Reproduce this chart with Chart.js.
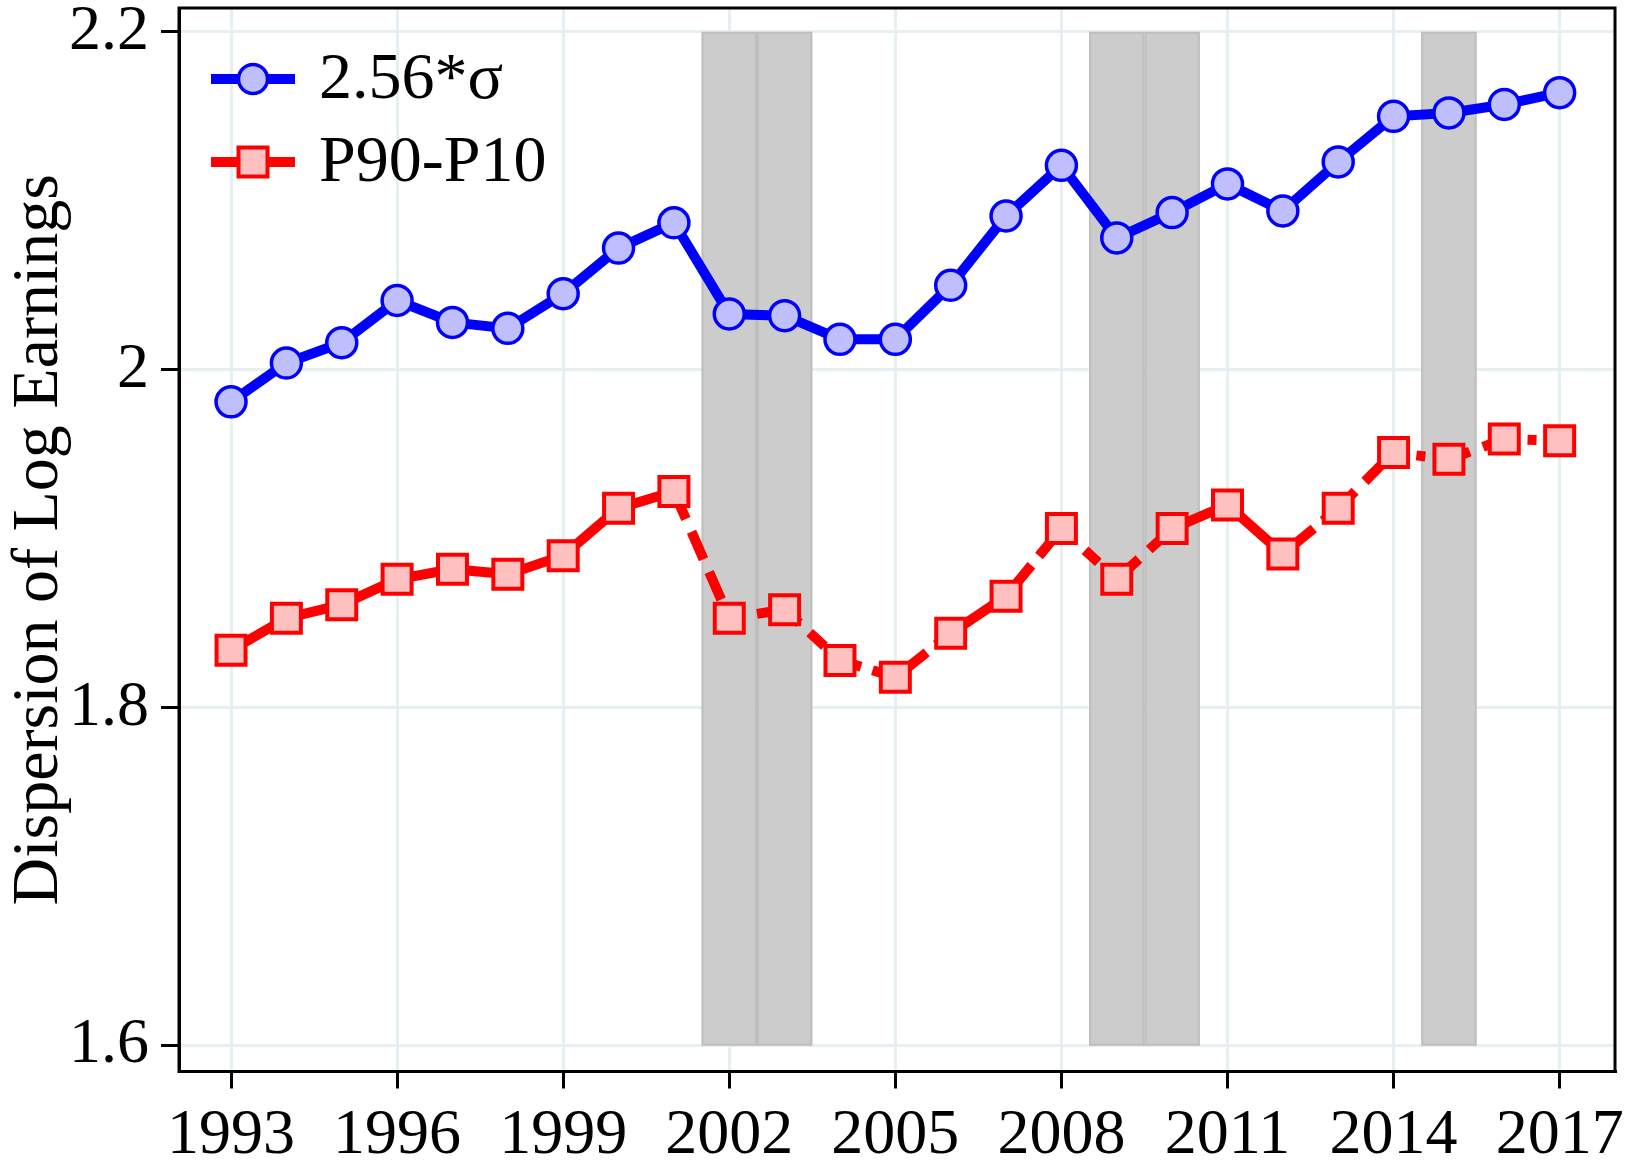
<!DOCTYPE html>
<html>
<head>
<meta charset="utf-8">
<script src="https://cdn.jsdelivr.net/npm/chart.js@4.4.0/dist/chart.umd.min.js"></script>
<style>
  html, body { margin: 0; padding: 0; background: #fff; }
  #wrap { width: 1628px; height: 1165px; position: relative; }
</style>
</head>
<body>
<div id="wrap"><canvas id="dispersionChart"></canvas></div>
<script>
// ===== Data =====
const years = [1993, 1994, 1995, 1996, 1997, 1998, 1999, 2000, 2001, 2002, 2003, 2004,
               2005, 2006, 2007, 2008, 2009, 2010, 2011, 2012, 2013, 2014, 2015, 2016, 2017];
const sigmaValues = [1.981, 2.004, 2.016, 2.041, 2.028, 2.0245, 2.045, 2.072, 2.087, 2.033, 2.032, 2.018,
                     2.018, 2.050, 2.091, 2.121, 2.078, 2.093, 2.110, 2.094, 2.123, 2.150, 2.152, 2.157, 2.164];
const p9010Values = [1.834, 1.853, 1.861, 1.876, 1.882, 1.879, 1.890, 1.918, 1.928, 1.853, 1.858, 1.828,
                     1.818, 1.844, 1.866, 1.906, 1.876, 1.906, 1.920, 1.891, 1.918, 1.951, 1.947, 1.959, 1.958];
const seriesLabels = ['2.56*\u03c3', 'P90-P10'];
const xTicks = [1993, 1996, 1999, 2002, 2005, 2008, 2011, 2014, 2017];
const yTicks = [1.6, 1.8, 2.0, 2.2];
// shaded recession years (start, end)
const recessions = [[2001.5, 2002.5], [2002.5, 2003.5], [2008.5, 2009.5], [2009.5, 2010.5], [2014.5, 2015.5]];
const bandRange = [1.6, 2.2];

// dash pattern of each red segment (segment i joins year i and i+1)
const redDash = [[], [], [], [], [], [], [], [],
                 [30, 14], [14, 14], [20, 14], [22, 12], [40, 12], [], [40, 12], [18, 14],
                 [30, 14], [], [], [40, 12], [24, 14], [9, 14], [9, 14], [9, 14]];

const serif = "'Liberation Serif', 'Times New Roman', serif";

// ===== Plugins =====
const bandsPlugin = {
    id: 'bands',
    beforeDatasetsDraw(chart) {
        const { ctx, scales: { x, y } } = chart;
        ctx.save();
        ctx.fillStyle = '#cccccc';
        ctx.strokeStyle = '#bfbfbf';
        ctx.lineWidth = 2;
        recessions.forEach(([a, b]) => {
            const x0 = x.getPixelForValue(a);
            const x1 = x.getPixelForValue(b);
            const y0 = y.getPixelForValue(bandRange[1]);
            const y1 = y.getPixelForValue(bandRange[0]);
            ctx.fillRect(x0, y0, x1 - x0, y1 - y0);
            ctx.strokeRect(x0 + 1, y0 + 1, x1 - x0 - 2, y1 - y0 - 2);
        });
        ctx.restore();
    }
};

const frameAndLegendPlugin = {
    id: 'frameLegend',
    afterDraw(chart) {
        const { ctx, chartArea: a } = chart;
        ctx.save();
        // box around the plot
        ctx.strokeStyle = '#000';
        ctx.lineWidth = 3;
        ctx.strokeRect(a.left, a.top, a.right - a.left, a.bottom - a.top);

        // legend: line + marker + label
        const rows = [a.top + 71, a.top + 154];
        chart.data.datasets.forEach((ds, i) => {
            const cy = rows[i];
            const lx0 = a.left + 32, lx1 = a.left + 116, mx = a.left + 74;
            ctx.strokeStyle = ds.borderColor;
            ctx.lineWidth = 10;
            ctx.setLineDash([]);
            ctx.beginPath();
            ctx.moveTo(lx0, cy);
            ctx.lineTo(lx1, cy);
            ctx.stroke();
            ctx.fillStyle = ds.pointBackgroundColor;
            ctx.lineWidth = ds.pointBorderWidth;
            ctx.strokeStyle = ds.pointBorderColor;
            ctx.beginPath();
            if (ds.pointStyle === 'rect') {
                ctx.rect(mx - 14.5, cy - 14.5, 29, 29);
            } else {
                ctx.arc(mx, cy, 14.5, 0, Math.PI * 2);
            }
            ctx.fill();
            ctx.stroke();
            ctx.fillStyle = '#000';
            ctx.font = '66px ' + serif;
            ctx.textBaseline = 'middle';
            ctx.textAlign = 'left';
            ctx.fillText(ds.label, a.left + 140, cy + 2);
        });
        ctx.restore();
    }
};

// ===== Chart =====
function initChart() {
    const ctx = document.getElementById('dispersionChart');

    const data = {
        datasets: [{
            label: seriesLabels[0],
            data: years.map((yr, i) => ({ x: yr, y: sigmaValues[i] })),
            borderColor: '#0000ff',
            borderWidth: 10,
            pointStyle: 'circle',
            pointRadius: 15,
            pointBorderWidth: 3.5,
            pointBorderColor: '#0000ff',
            pointBackgroundColor: '#bfbfff',
            tension: 0
        }, {
            label: seriesLabels[1],
            data: years.map((yr, i) => ({ x: yr, y: p9010Values[i] })),
            borderColor: '#ff0000',
            borderWidth: 10,
            pointStyle: 'rect',
            pointRadius: 20.5,
            pointBorderWidth: 4,
            pointBorderColor: '#ff0000',
            pointBackgroundColor: '#ffc0c0',
            tension: 0,
            segment: {
                borderDash: c => redDash[c.p0DataIndex]
            }
        }]
    };

    const config = {
        type: 'line',
        data: data,
        options: {
            responsive: false,
            animation: false,
            layout: { autoPadding: false, padding: { left: 0, right: 13, top: 8, bottom: 0 } },
            plugins: {
                legend: { display: false },
                tooltip: { enabled: false }
            },
            scales: {
                x: {
                    type: 'linear',
                    min: 1992.06,
                    max: 2018.0,
                    afterBuildTicks: s => { s.ticks = xTicks.map(v => ({ value: v })); },
                    afterFit: s => { s.height = 93.5; s.paddingLeft = 0; s.paddingRight = 0; },
                    grid: {
                        color: '#e6eff1',
                        lineWidth: 3,
                        tickColor: '#000',
                        tickWidth: 3,
                        tickLength: 17
                    },
                    border: { display: true, color: '#000', width: 3 },
                    ticks: {
                        color: '#000',
                        padding: 9,
                        maxRotation: 0,
                        autoSkip: false,
                        font: { family: serif, size: 64 },
                        callback: v => String(v)
                    }
                },
                y: {
                    min: 1.5847,
                    max: 2.2141,
                    afterBuildTicks: s => { s.ticks = yTicks.map(v => ({ value: v })); },
                    afterFit: s => { s.width = 179; s.paddingTop = 0; s.paddingBottom = 0; },
                    grid: {
                        color: '#e6eff1',
                        lineWidth: 3,
                        tickColor: '#000',
                        tickWidth: 3,
                        tickLength: 18
                    },
                    border: { display: true, color: '#000', width: 3 },
                    ticks: {
                        color: '#000',
                        padding: 12,
                        font: { family: serif, size: 64, lineHeight: 0.2 },
                        callback: v => String(v)
                    },
                    title: {
                        display: true,
                        text: 'Dispersion of Log Earnings',
                        color: '#000',
                        padding: 0,
                        font: { family: serif, size: 66 }
                    }
                }
            }
        },
        plugins: [bandsPlugin, frameAndLegendPlugin]
    };

    ctx.width = 1628;
    ctx.height = 1165;
    new Chart(ctx, config);
}

document.addEventListener('DOMContentLoaded', initChart);
</script>
</body>
</html>
